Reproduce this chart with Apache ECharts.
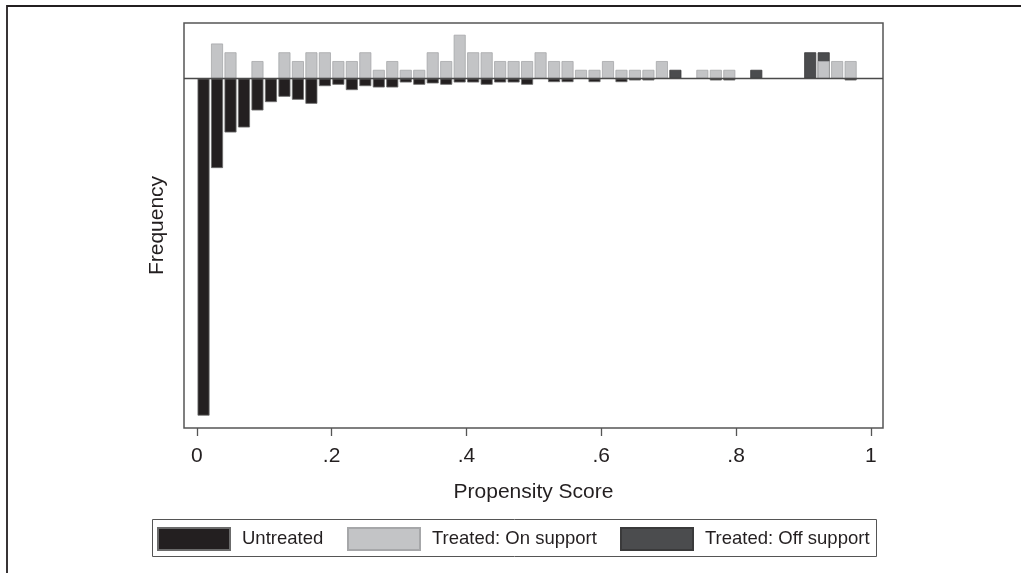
<!DOCTYPE html>
<html>
<head>
<meta charset="utf-8">
<script src="https://cdn.jsdelivr.net/npm/echarts@6/dist/echarts.min.js"></script>
<style>
html,body{margin:0;padding:0;background:#fff;}
#main{width:1021px;height:573px;}
</style>
</head>
<body>
<div id="main"></div>
<script>
// Bin centres of the propensity-score histogram (bin width 0.02)
const binCenters = [0.01,0.03,0.05,0.07,0.09,0.11,0.13,0.15,0.17,0.19,0.21,0.23,0.25,0.27,0.29,0.31,0.33,0.35,0.37,0.39,0.41,0.43,0.45,0.47,0.49,0.51,0.53,0.55,0.57,0.59,0.61,0.63,0.65,0.67,0.69,0.71,0.73,0.75,0.77,0.79,0.81,0.83,0.85,0.87,0.89,0.91,0.93,0.95,0.97];
// Untreated (drawn below zero)
const untreated = [38.43,10.2,6.14,5.57,3.63,2.68,2.07,2.41,2.87,0.86,0.70,1.31,0.86,1.01,1.01,0.44,0.70,0.55,0.70,0.44,0.44,0.70,0.44,0.44,0.70,0,0.40,0.40,0,0.40,0,0.40,0.21,0.21,0,0,0,0,0.21,0.21,0,0,0,0,0,0,0,0,0.21];
// Treated: On support
const onSupport = [0,4,3,0,2,0,3,2,3,3,2,2,3,1,2,1,1,3,2,5,3,3,2,2,2,3,2,2,1,1,2,1,1,1,2,0,0,1,1,1,0,0,0,0,0,0,2,2,2];
// Treated: Off support
const offSupport = [0,0,0,0,0,0,0,0,0,0,0,0,0,0,0,0,0,0,0,0,0,0,0,0,0,0,0,0,0,0,0,0,0,0,0,1,0,0,0,0,0,1,0,0,0,3,1,0,0];
const xTickValues = [0,0.2,0.4,0.6,0.8,1];
const xTickLabels = ['0','.2','.4','.6','.8','1'];
const seriesNames = ['Untreated','Treated: On support','Treated: Off support'];

const FONT = "'Liberation Sans',Arial,sans-serif";
const INK = '#231f20';

function toData(vals) {
  return binCenters.map((x, i) => [x, vals[i] ? vals[i] : null]);
}
// Off-support bars sit on top of the on-support bar of the same bin:
// drawn as the bin total, with the on-support bar painted over its lower part.
const offTop = offSupport.map((v, i) => v ? v + onSupport[i] : 0);
const untreatedNeg = untreated.map(v => -v);

const chart = echarts.init(document.getElementById('main'), null, {renderer: 'canvas'});
const legendBase = {
  orient: 'horizontal', top: 527, padding: 0, itemWidth: 72, itemHeight: 22,
  icon: 'rect', selectedMode: false,
  textStyle: {fontFamily: FONT, fontSize: 18.5, color: INK, padding: [0,0,0,7]}
};
chart.setOption({
  animation: false,
  backgroundColor: '#fff',
  grid: {left: 184, top: 23, right: 138, bottom: 145, show: true,
         borderColor: '#555', borderWidth: 1.5, backgroundColor: '#fff'},
  xAxis: {
    type: 'value', min: -0.019, max: 1.018,
    name: 'Propensity Score', nameLocation: 'middle', nameGap: 54,
    nameTextStyle: {fontFamily: FONT, fontSize: 21, color: INK},
    axisLine: {show: false, onZero: false},
    splitLine: {show: false},
    axisTick: {show: true, inside: false, length: 8, customValues: xTickValues,
               lineStyle: {color: '#555', width: 1.3}},
    axisLabel: {show: true, margin: 18, customValues: xTickValues,
                fontFamily: FONT, fontSize: 21, color: INK,
                formatter: v => { const i = xTickValues.findIndex(t => Math.abs(t - v) < 1e-6); return i >= 0 ? xTickLabels[i] : ''; }}
  },
  yAxis: {
    type: 'value', min: -39.84, max: 6.34,
    name: 'Frequency', nameLocation: 'middle', nameRotate: 90, nameGap: 16,
    nameTextStyle: {fontFamily: FONT, fontSize: 21, color: INK},
    axisLine: {show: false, onZero: false}, axisTick: {show: false}, axisLabel: {show: false},
    splitLine: {show: false}
  },
  legend: [
    Object.assign({}, legendBase, {left: 157, data: [seriesNames[0]]}),
    Object.assign({}, legendBase, {left: 347, data: [seriesNames[1]]}),
    Object.assign({}, legendBase, {left: 620, data: [seriesNames[2]]})
  ],
  graphic: [
    {type: 'rect', silent: true, shape: {x: 7, y: 6, width: 2000, height: 2000},
     style: {fill: 'none', stroke: INK, lineWidth: 1.8}},
    {type: 'rect', silent: true, shape: {x: 152.5, y: 519.5, width: 724, height: 37},
     style: {fill: 'none', stroke: '#555', lineWidth: 1}}
  ],
  series: [
    {name: seriesNames[0], type: 'bar', barWidth: '89%', barGap: '-100%',
     data: toData(untreatedNeg),
     itemStyle: {color: INK, borderColor: '#6b6b6b', borderWidth: 0.8},
     markLine: {silent: true, symbol: 'none', label: {show: false}, z: 10,
                lineStyle: {color: '#4a4a4a', width: 1.3, type: 'solid'},
                data: [{yAxis: 0}]}},
    {name: seriesNames[2], type: 'bar', barWidth: '89%', barGap: '-100%',
     data: toData(offTop),
     itemStyle: {color: '#4b4c4e', borderColor: '#3a3a3b', borderWidth: 0.8}},
    {name: seriesNames[1], type: 'bar', barWidth: '89%', barGap: '-100%',
     data: toData(onSupport),
     itemStyle: {color: '#c3c4c6', borderColor: '#a6a7a9', borderWidth: 0.8}}
  ]
});
</script>
</body>
</html>
